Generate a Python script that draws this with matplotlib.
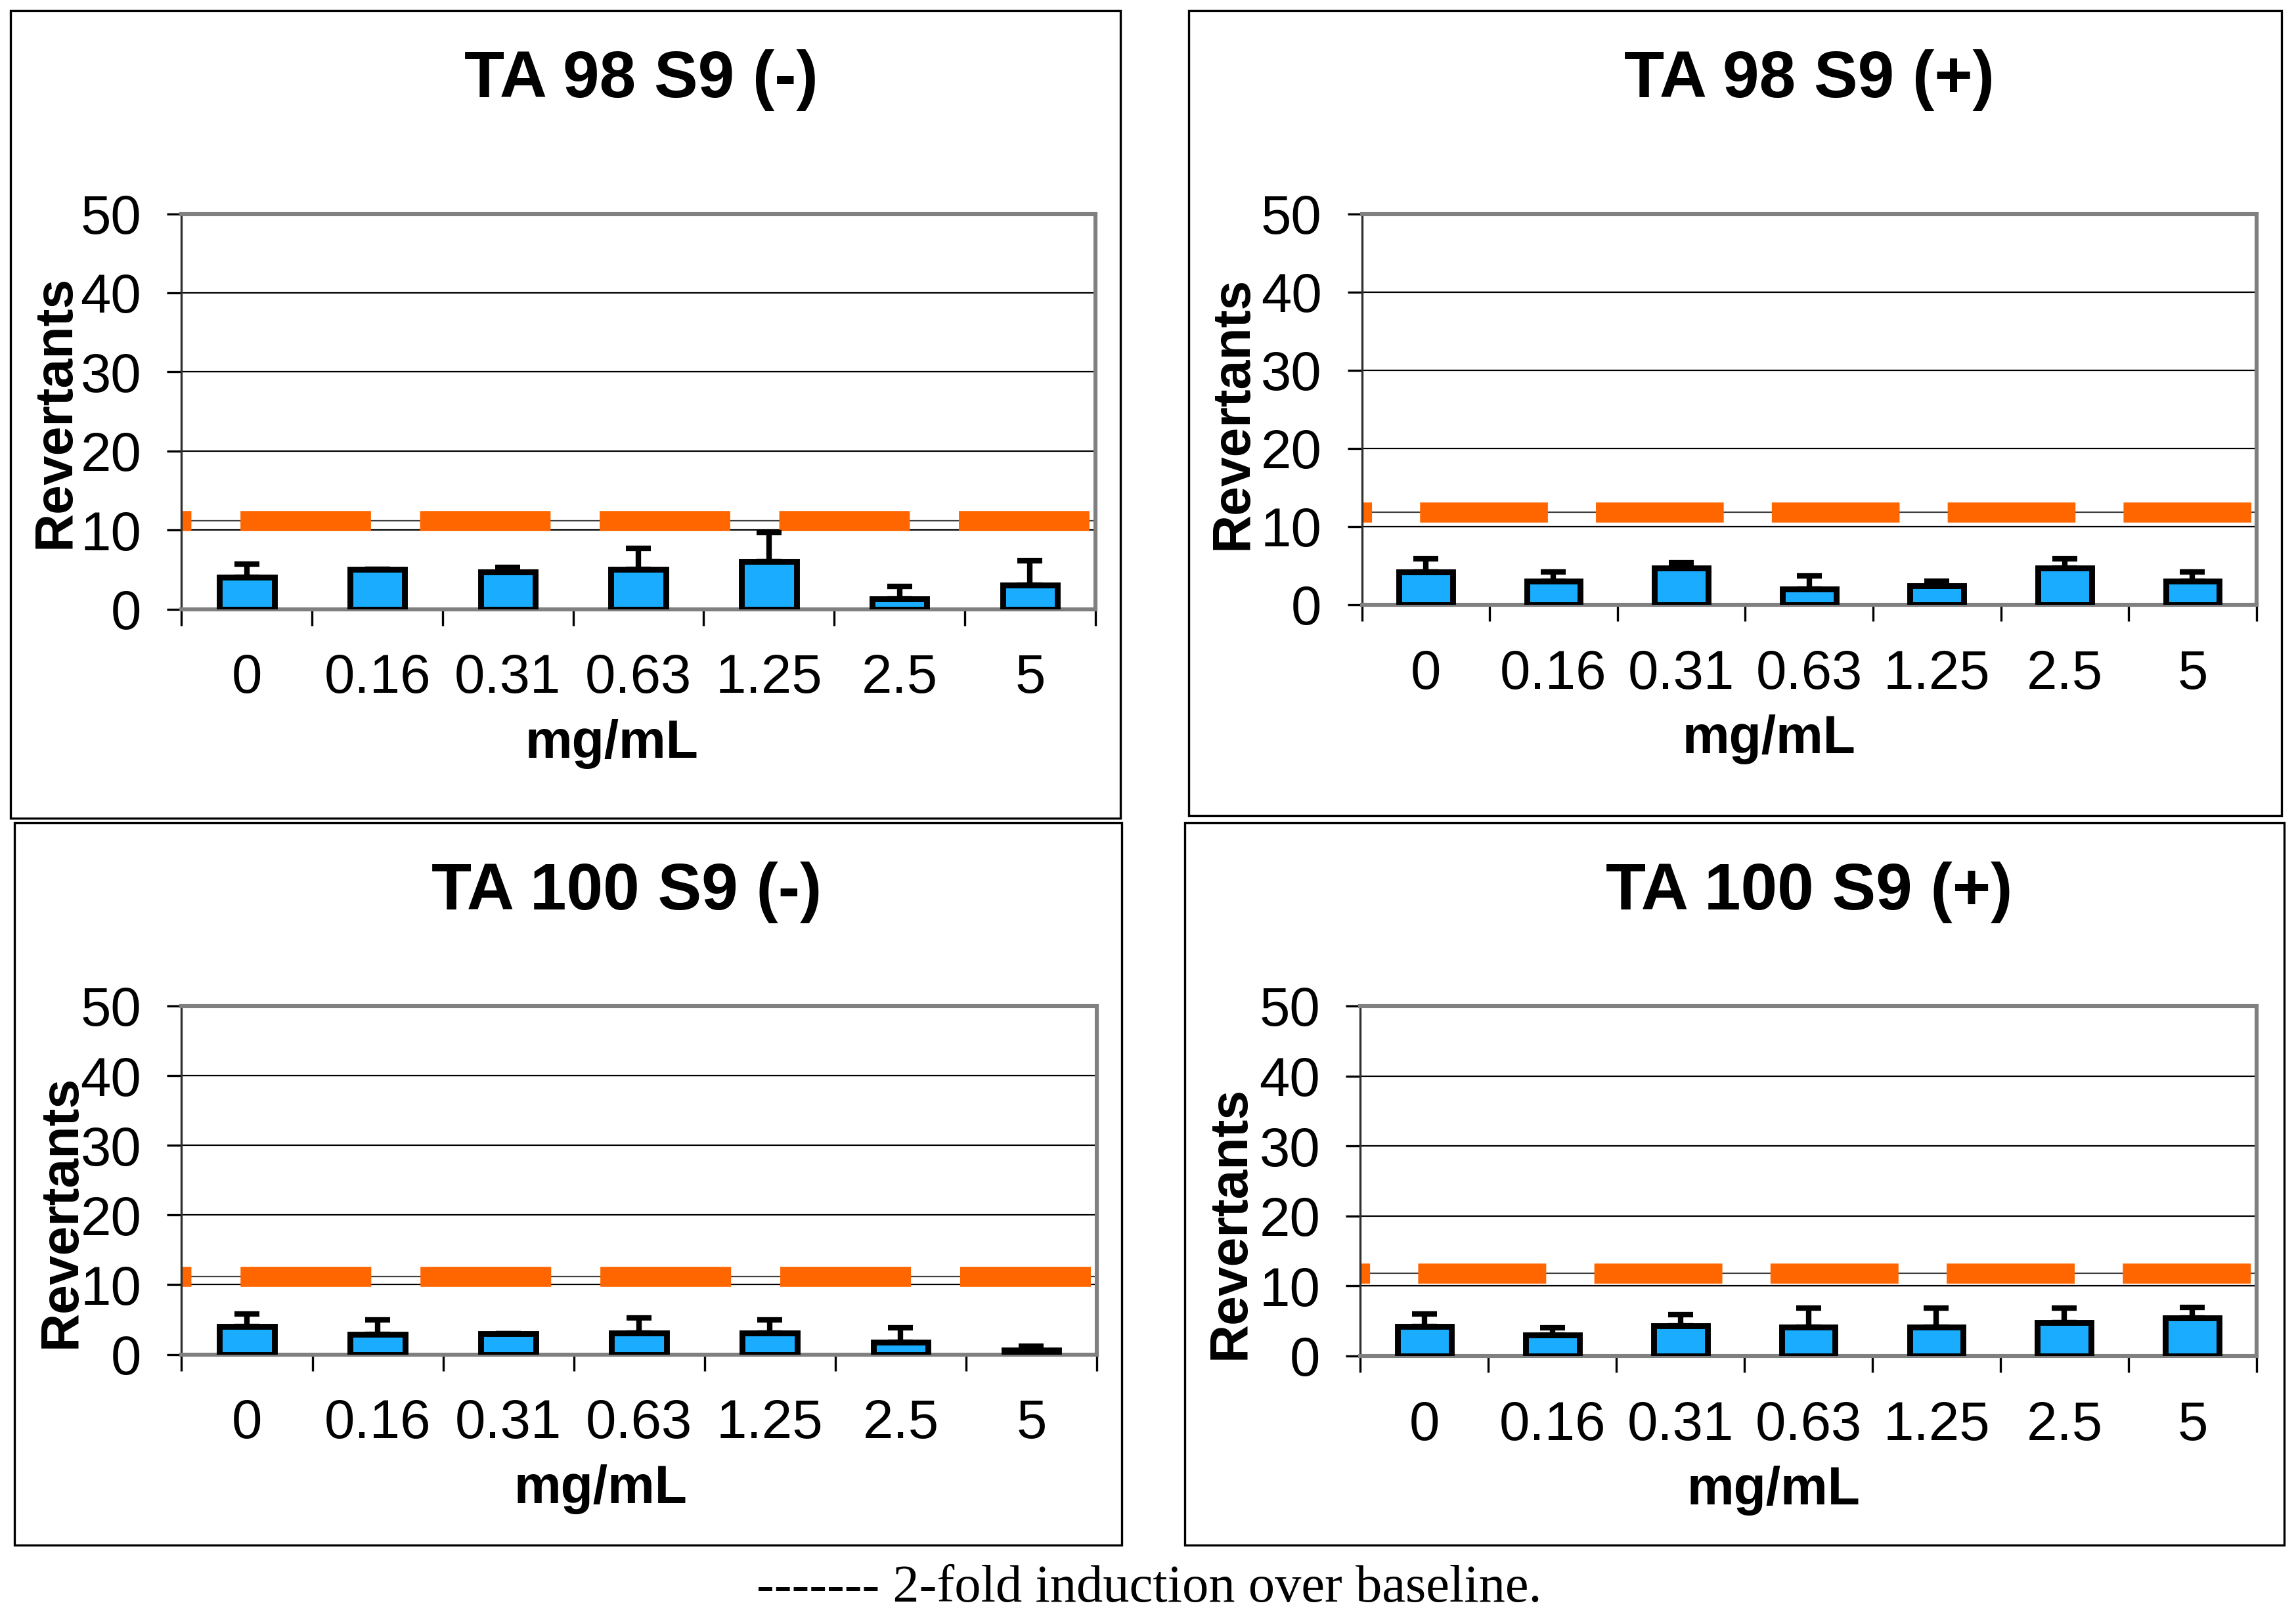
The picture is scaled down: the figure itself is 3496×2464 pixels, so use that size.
import numpy as np
import matplotlib
matplotlib.use("Agg")
import matplotlib.pyplot as plt
from matplotlib.patches import Rectangle

plt.rcParams['font.family'] = ['Liberation Sans', 'DejaVu Sans']
plt.rcParams['lines.scale_dashes'] = False

# doses (mg/mL) and the four strain / S9 conditions
doses = ['0', '0.16', '0.31', '0.63', '1.25', '2.5', '5']
titles = ['TA 98 S9 (-)', 'TA 98 S9 (+)', 'TA 100 S9 (-)', 'TA 100 S9 (+)']

ta98_minus = [4.0, 5.0, 4.7, 5.0, 6.0, 1.3, 3.0]
ta98_minus_err = [1.7, 0.0, 0.6, 2.7, 3.7, 1.6, 3.1]
ta98_plus = [4.2, 3.0, 4.7, 2.0, 2.4, 4.7, 3.0]
ta98_plus_err = [1.7, 1.2, 0.7, 1.7, 0.6, 1.2, 1.2]
ta100_minus = [4.0, 2.9, 3.0, 3.1, 3.1, 1.8, 0.6]
ta100_minus_err = [1.8, 2.1, 0.0, 2.1, 1.9, 2.0, 0.6]
ta100_plus = [4.2, 3.0, 4.3, 4.1, 4.1, 4.8, 5.4]
ta100_plus_err = [1.8, 1.0, 1.6, 2.7, 2.7, 2.0, 1.5]

# 2-fold induction over baseline
twofold = [11.2, 11.8, 11.2, 11.8]

means = [ta98_minus, ta98_plus, ta100_minus, ta100_plus]
errs = [ta98_minus_err, ta98_plus_err, ta100_minus_err, ta100_plus_err]

W, H = 1568.0, 1105.0  # layout measured on a 1568 px wide copy


def frac(x0, y0, x1, y1):
    return [x0 / W, 1 - y1 / H, (x1 - x0) / W, (y1 - y0) / H]


boxes = [(7, 7, 765, 559), (812, 7, 1558, 557), (10, 562, 766, 1055), (809, 562, 1560, 1055)]
plots = [(124, 146, 748, 416), (930, 146, 1541, 413), (124, 687, 749, 925), (929, 687, 1541, 926)]
ylab_pos = [(-0.138, 0.5), (-0.144, 0.49), (-0.131, 0.41), (-0.145, 0.38)]
xlab_x = [0.471, 0.455, 0.458, 0.461]
title_x = [0.503, 0.500, 0.486, 0.501]
title_gap = [84.0, 84.0, 70.0, 70.0]

fig = plt.figure(figsize=(17.48, 12.32), dpi=200)

x = np.arange(len(doses))

for i in range(4):
    b = frac(*boxes[i])
    fig.patches.append(Rectangle((b[0], b[1]), b[2], b[3],
                                 transform=fig.transFigure, fill=False,
                                 edgecolor='black', linewidth=1.2))
    ax = fig.add_axes(frac(*plots[i]))
    ph = plots[i][3] - plots[i][1]
    ax.set_xlim(-0.5, 6.5)
    ax.set_ylim(0, 50)
    ax.set_yticks([0, 10, 20, 30, 40, 50])
    ax.grid(axis='y', color='black', linewidth=0.8, zorder=0)
    ax.set_axisbelow(True)

    ax.bar(x, means[i], width=0.42, color='#1AADFF', edgecolor='black',
           linewidth=3.2, zorder=3)
    ax.errorbar(x, means[i], yerr=[np.zeros(len(doses)), errs[i]], fmt='none',
                ecolor='black', elinewidth=3, capsize=7, capthick=3, zorder=4)

    # thin line plus the thick orange dashes of the 2-fold level
    ax.axhline(twofold[i], color='#404040', linewidth=0.8, zorder=1)
    cat_pts = float(ax.get_position().width * fig.get_figwidth() * 72 / 7)
    ax.axhline(twofold[i], color='#FF6600', linewidth=11, zorder=2,
               linestyle=(0.925 * cat_pts, (1.0 * cat_pts, 0.376 * cat_pts)),
               dash_capstyle='butt')

    for side in ['top', 'right', 'bottom']:
        ax.spines[side].set_color('#808080')
        ax.spines[side].set_linewidth(2.2)
    ax.spines['left'].set_color('#303030')
    ax.spines['left'].set_linewidth(1.2)

    ax.set_xticks(x)
    ax.set_xticklabels(doses)
    ax.set_xticks(np.arange(-0.5, 7.0, 1.0), minor=True)
    ax.tick_params(axis='x', which='major', length=0, pad=24, labelsize=30)
    ax.tick_params(axis='x', which='minor', length=9, width=1.2, color='black')
    ax.tick_params(axis='y', length=8, width=1.2, pad=14, labelsize=30)

    ax.set_xlabel('mg/mL', fontsize=29, fontweight='bold', va='center')
    ax.xaxis.set_label_coords(xlab_x[i], -92.0 / ph)
    ax.set_ylabel('Revertants', fontsize=29, fontweight='bold', va='center')
    ax.yaxis.set_label_coords(*ylab_pos[i])

    ax.set_title(titles[i], fontsize=36, fontweight='bold', va='center',
                 x=title_x[i], y=1 + title_gap[i] / ph)

fig.text(785 / W, 1 - 1085 / H, '------- 2-fold induction over baseline.',
         ha='center', va='center', fontsize=29, family=['Liberation Serif', 'DejaVu Serif'])

fig.savefig('out.png', dpi=200)
